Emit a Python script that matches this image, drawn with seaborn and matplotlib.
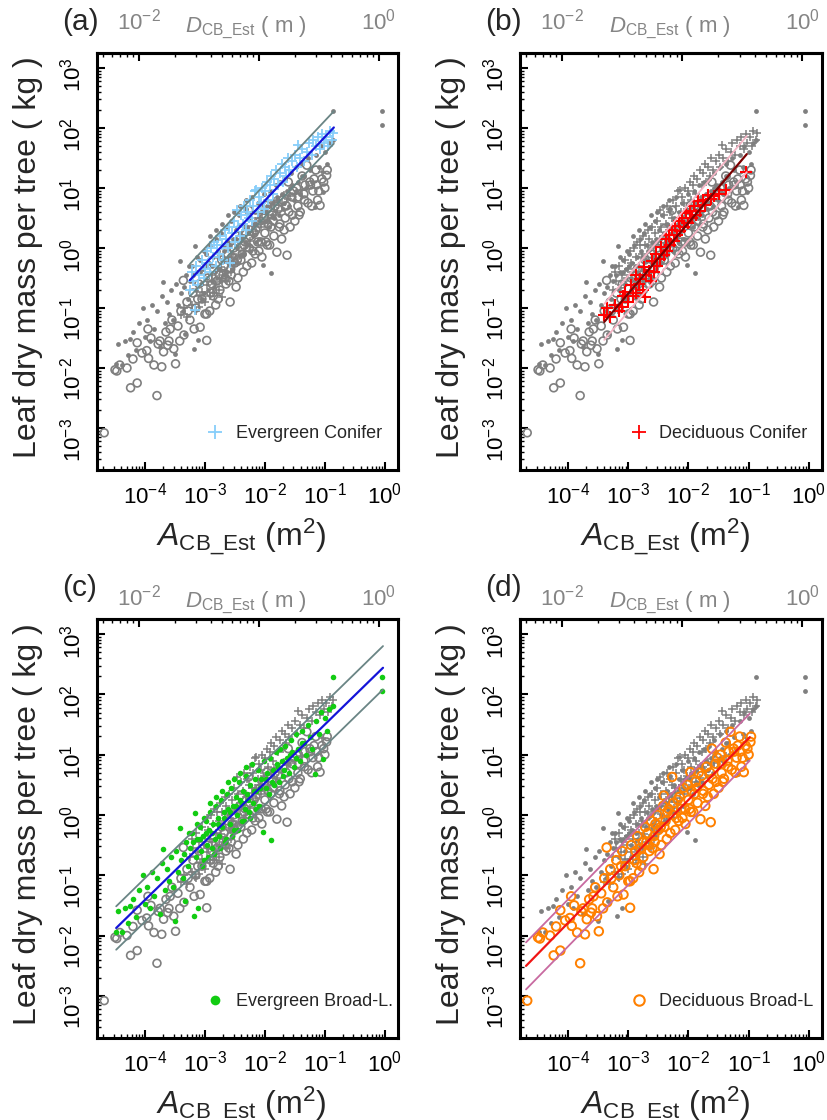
import numpy as np
import pandas as pd
import matplotlib
matplotlib.use("Agg")
import matplotlib.pyplot as plt
import seaborn as sns
from matplotlib.lines import Line2D
from matplotlib.markers import MarkerStyle
from matplotlib.ticker import LogLocator, NullFormatter

# ---------------- data: log10(A_CB_Est [m2]) and log10(leaf mass [kg])
ec_logA = [-3.25, -3.22, -3.20, -3.17, -3.15, -3.12, -3.10, -3.05, -3.02, -3.00,
           -2.97, -2.95, -2.92, -2.90, -2.87, -2.85, -2.82, -2.80, -2.77, -2.75,
           -2.72, -2.70, -2.67, -2.65, -2.62, -2.60, -2.58, -2.55, -2.52, -2.50,
           -2.47, -2.45, -2.42, -2.40, -2.37, -2.35, -2.32, -2.30, -2.27, -2.25,
           -2.22, -2.20, -2.17, -2.14, -2.12, -2.10, -2.07, -2.05, -2.02, -2.00,
           -1.97, -1.95, -1.92, -1.90, -1.87, -1.85, -1.81, -1.78, -1.75, -1.72,
           -1.70, -1.67, -1.65, -1.62, -1.60, -1.55, -1.50, -1.47, -1.44, -1.42,
           -1.38, -1.35, -1.30, -1.27, -1.22, -1.20, -1.15, -1.12, -1.08, -1.05,
           -1.02, -0.98, -0.95, -0.92, -0.88, -0.86]
ec_logM = [-0.70, -0.40, -0.55, -1.03, -0.30, -0.62, -0.45, -0.20, -0.50, -0.35,
           -0.05, -0.25, -0.40, 0.00, -0.15, 0.10, -0.30, 0.05, -0.10, 0.20,
           0.05, -0.20, 0.30, 0.15, 0.00, 0.35, -0.25, 0.25, 0.45, 0.10,
           0.63, 0.35, 0.20, 0.55, 0.40, 0.70, 0.30, 0.60, 0.50, 0.80,
           0.45, 0.70, 0.95, 0.96, 0.60, 0.85, 0.75, 1.00, 0.65, 0.95,
           1.10, 0.80, 1.05, 1.20, 0.90, 1.15, 1.30, 1.05, 1.25, 1.40,
           1.10, 1.35, 1.20, 1.50, 1.30, 1.45, 1.55, 1.35, 1.72, 1.50,
           1.65, 1.45, 1.60, 1.75, 1.55, 1.80, 1.70, 1.85, 1.65, 1.90,
           1.75, 1.85, 1.70, 1.95, 1.80, 1.91]

dc_logA = [-3.40, -3.35, -3.30, -3.22, -3.15, -3.10, -3.08, -3.05, -3.00, -2.96,
           -2.92, -2.88, -2.87, -2.83, -2.80, -2.76, -2.74, -2.72, -2.70, -2.66,
           -2.63, -2.60, -2.57, -2.54, -2.52, -2.48, -2.45, -2.41, -2.38, -2.35,
           -2.32, -2.30, -2.27, -2.24, -2.22, -2.19, -2.16, -2.14, -2.10, -2.07,
           -2.04, -2.00, -1.97, -1.94, -1.90, -1.87, -1.84, -1.80, -1.76, -1.72,
           -1.68, -1.62, -1.58, -1.50, -1.38, -1.05]
dc_logM = [-1.12, -1.00, -1.15, -0.95, -1.05, -0.98, -0.80, -0.73, -0.90, -0.62,
           -0.80, -0.45, -0.75, -0.60, -0.52, -0.70, -0.31, -0.81, -0.45, -0.38,
           -0.55, -0.22, -0.40, -0.10, -0.30, -0.18, 0.02, -0.12, 0.15, -0.05,
           0.22, 0.05, 0.30, 0.12, 0.36, 0.22, 0.45, 0.28, 0.50, 0.35,
           0.58, 0.42, 0.62, 0.50, 0.70, 0.55, 0.78, 0.62, 0.80, 0.72,
           0.88, 0.82, 0.86, 0.90, 0.97, 1.27]

eb_logA = [-4.49, -4.45, -4.39, -4.33, -4.28, -4.25, -4.20, -4.15, -4.10, -4.03,
           -4.00, -3.96, -3.92, -3.88, -3.85, -3.80, -3.75, -3.72, -3.70, -3.67,
           -3.63, -3.60, -3.56, -3.53, -3.50, -3.48, -3.45, -3.42, -3.40, -3.37,
           -3.33, -3.31, -3.28, -3.25, -3.22, -3.19, -3.17, -3.15, -3.13, -3.11,
           -3.09, -3.06, -3.04, -3.01, -2.99, -2.96, -2.94, -2.91, -2.89, -2.86,
           -2.84, -2.81, -2.79, -2.76, -2.74, -2.71, -2.69, -2.66, -2.64, -2.61,
           -2.59, -2.56, -2.54, -2.51, -2.49, -2.46, -2.44, -2.41, -2.39, -2.36,
           -2.34, -2.31, -2.29, -2.26, -2.24, -2.21, -2.19, -2.16, -2.14, -2.11,
           -2.09, -2.06, -2.03, -2.01, -1.98, -1.96, -1.93, -1.91, -1.89, -1.87,
           -1.84, -1.82, -1.79, -1.77, -1.74, -1.71, -1.69, -1.66, -1.63, -1.60,
           -1.57, -1.54, -1.51, -1.48, -1.45, -1.42, -1.38, -1.35, -1.32, -1.28,
           -1.25, -1.21, -1.17, -1.14, -1.10, -1.07, -1.03, -1.00, -0.96, -0.93,
           -3.35, -3.20, -3.08, -2.98, -2.88, -2.78, -2.68, -2.58, -2.48, -2.38,
           -2.28, -2.18, -2.08, -1.98, -1.88, -1.78, -1.68, -1.58, -1.48, -1.38,
           -3.27, -3.14, -3.02, -2.92, -2.82, -2.72, -2.62, -2.52, -2.42, -2.32,
           -3.05, -2.95, -2.85, -2.75, -2.65, -2.55, -2.45, -2.35, -2.25, -2.15,
           -0.87, -0.87, -0.055, -0.055]
eb_logM = [-1.94, -1.60, -1.95, -1.55, -1.79, -1.51, -1.40, -1.70, -1.25, -1.00,
           -1.48, -1.20, -1.55, -0.95, -1.35, -1.05, -1.65, -0.80, -0.57, -1.25,
           -0.90, -1.10, -0.70, -1.20, -1.76, -0.60, -0.95, -0.22, -0.75, -1.05,
           -1.43, -0.45, -0.85, -0.55, -0.30, -1.68, 0.04, -0.70, -0.40, -1.54,
           -0.20, -0.60, -0.35, -0.75, -0.10, -0.50, -0.25, 0.05, -0.55, -0.15,
           -0.40, 0.15, -0.05, -0.35, 0.25, -0.20, 0.05, -0.45, 0.35, 0.10,
           -0.15, 0.45, 0.15, -0.25, 0.30, 0.00, 0.55, 0.25, -0.10, 0.40,
           0.10, 0.65, 0.35, 0.05, 0.50, 0.85, 0.20, 0.60, 0.40, 0.75,
           0.15, 0.60, -0.29, 0.90, 0.45, 0.70, 0.35, 0.95, -0.41, 0.75,
           0.50, 1.05, 0.85, 0.55, 1.10, 0.90, 0.65, 1.15, 0.95, 0.70,
           1.25, 1.05, 0.80, 1.35, 1.10, 0.90, 1.40, 1.20, 1.00, 1.50,
           1.30, 1.10, 0.68, 1.55, 1.35, 1.70, 0.93, 1.60, 1.40, 1.75,
           -0.65, -0.45, -0.40, -0.30, -0.30, -0.15, -0.05, 0.05, 0.15, 0.20,
           0.25, 0.40, 0.45, 0.60, 0.55, 0.80, 0.75, 1.00, 0.95, 1.20,
           -0.30, -0.15, -0.05, 0.20, 0.30, 0.40, 0.55, 0.60, 0.70, 0.80,
           -0.85, -0.70, -0.65, -0.55, -0.40, -0.35, -0.25, -0.10, -0.05, 0.10,
           2.28, 1.80, 2.28, 2.05]

db_logA = [-4.68, -4.50, -4.47, -4.42, -4.30, -4.24, -4.20, -4.13, -4.13, -4.05,
           -3.97, -3.95, -3.94, -3.90, -3.85, -3.80, -3.78, -3.72, -3.69, -3.65,
           -3.62, -3.60, -3.55, -3.52, -3.49, -3.45, -3.42, -3.40, -3.36, -3.35,
           -3.30, -3.28, -3.25, -3.20, -3.18, -3.15, -3.12, -3.10, -3.08, -3.05,
           -3.00, -2.97, -2.97, -2.95, -2.92, -2.90, -2.88, -2.85, -2.82, -2.80,
           -2.78, -2.75, -2.72, -2.70, -2.68, -2.65, -2.62, -2.60, -2.58, -2.57,
           -2.55, -2.52, -2.50, -2.48, -2.45, -2.42, -2.41, -2.40, -2.38, -2.35,
           -2.33, -2.30, -2.27, -2.25, -2.22, -2.20, -2.18, -2.15, -2.12, -2.10,
           -2.08, -2.05, -2.02, -2.00, -1.98, -1.97, -1.95, -1.92, -1.90, -1.88,
           -1.85, -1.83, -1.80, -1.78, -1.75, -1.72, -1.70, -1.68, -1.66, -1.63,
           -1.61, -1.60, -1.58, -1.55, -1.52, -1.50, -1.47, -1.45, -1.43, -1.41,
           -1.38, -1.35, -1.33, -1.30, -1.28, -1.25, -1.22, -1.20, -1.18, -1.15,
           -1.12, -1.10, -1.08, -1.05, -1.02, -1.00, -0.97, -0.96,
           -2.86, -2.76, -2.66, -2.56, -2.46, -2.36, -2.26, -2.16, -2.06, -1.96,
           -1.86, -1.76, -1.64, -1.54, -1.44, -1.34, -1.24, -1.14, -3.75, -3.58]
db_logM = [-3.08, -2.03, -2.05, -1.95, -2.00, -2.33, -1.85, -1.58, -2.25, -1.75,
           -1.71, -1.35, -1.84, -1.50, -1.95, -2.46, -1.60, -1.98, -1.73, -1.40,
           -1.62, -1.55, -1.20, -1.68, -1.93, -1.30, -1.55, -1.05, -0.54, -1.45,
           -0.90, -1.05, -1.20, -0.75, -1.35, -1.00, -0.85, -0.60, -1.32, -0.85,
           -1.10, -1.54, -1.10, -0.50, -1.05, -0.75, -0.60, -0.35, -0.95, -0.55,
           -0.85, -0.70, -0.20, -0.45, -0.30, -0.60, -0.10, -0.55, -0.90, -0.35,
           -0.15, 0.00, -0.25, -0.65, -0.50, 0.15, 0.32, -0.20, -0.10, 0.05,
           0.10, -0.30, 0.63, 0.20, -0.25, -0.05, 0.25, 0.30, 0.10, -0.05,
           0.45, -0.15, 0.50, 0.25, 0.10, 0.71, 0.40, 0.05, 0.35, 0.55,
           0.20, 0.70, -0.07, 0.65, 0.40, 0.15, 0.80, 0.30, 0.50, -0.12,
           1.10, 0.60, 0.35, 0.85, 0.95, 0.45, 1.00, 0.70, 0.55, 0.60,
           1.20, 0.90, 1.05, 1.38, 0.75, 1.10, 0.70, 0.95, 1.15, 1.30,
           0.80, 0.95, 0.71, 1.15, 1.10, 1.00, 1.21, 1.30,
           -0.80, -0.45, -0.50, -0.45, -0.20, -0.40, 0.00, -0.10, 0.10, 0.05,
           0.45, 0.35, 0.70, 0.55, 0.85, 0.80, 1.05, 1.05, -1.55, -1.35]

# fitted lines per panel: log10(M) = intercept + slope*log10(A), prediction band +/- band
fit_slope = [1.06, 1.18, 0.97, 1.02]
fit_intercept = [2.91, 2.78, 2.47, 2.29]
fit_band = [0.27, 0.30, 0.36, 0.39]
fit_logA_lo = [-3.25, -3.40, -4.48, -4.70]
fit_logA_hi = [-0.85, -1.03, -0.03, -0.98]

panel_letters = ["(a)", "(b)", "(c)", "(d)"]
panel_groups = ["EC", "DC", "EB", "DB"]
legend_labels = ["Evergreen Conifer", "Deciduous Conifer", "Evergreen Broad-L.", "Deciduous Broad-L"]
top_tick_values = [1e-2, 1e-1, 1e0]
top_tick_labels = [r"$10^{-2}$", "", r"$10^{0}$"]

# ---------------- style
sns.set_style("white")
plt.rcParams["font.family"] = ["Liberation Sans", "DejaVu Sans"]
plt.rcParams["mathtext.fontset"] = "custom"
plt.rcParams["mathtext.rm"] = "Liberation Sans"
plt.rcParams["mathtext.it"] = "Liberation Sans:italic"
plt.rcParams["mathtext.bf"] = "Liberation Sans:bold"
plt.rcParams["axes.unicode_minus"] = True

GRAY = "#7f7f7f"
TOPGRAY = "#858585"
open_circle = MarkerStyle("o", fillstyle="none")

groups = {
    "EC": (ec_logA, ec_logM),
    "DC": (dc_logA, dc_logM),
    "EB": (eb_logA, eb_logM),
    "DB": (db_logA, db_logM),
}
gray_kw = {
    "DB": dict(marker=open_circle, s=32, linewidth=1.2),
    "EB": dict(marker="o", s=12, linewidth=0),
    "DC": dict(marker="+", s=38, linewidth=1.1),
    "EC": dict(marker="+", s=38, linewidth=1.1),
}
hl_kw = {
    "EC": dict(color="#87CEFA", marker="+", s=48, linewidth=1.3),
    "DC": dict(color="#FF0000", marker="+", s=80, linewidth=1.5),
    "EB": dict(color="#12CC12", marker="o", s=16, linewidth=0),
    "DB": dict(color="#FF8000", marker=open_circle, s=38, linewidth=1.4),
}
line_colors = [("#1414D8", "#6A8585"), ("#7A0000", "#F5B5C5"),
               ("#1414D8", "#6A8585"), ("#F01515", "#C86AA0")]
legend_handles = [
    Line2D([], [], ls="none", marker="+", color="#87CEFA", markersize=10, mew=1.3),
    Line2D([], [], ls="none", marker="+", color="#FF0000", markersize=10, mew=1.3),
    Line2D([], [], ls="none", marker="o", color="#12CC12", markersize=7, mew=0),
    Line2D([], [], ls="none", marker="o", mfc="none", mec="#FF8000", markersize=7.5, mew=1.5),
]

W, H = 827, 1120
boxes = [(97, 53, 398, 470), (520, 53, 822, 470), (97, 619, 398, 1038), (520, 619, 822, 1038)]

fig = plt.figure(figsize=(W / 100, H / 100), dpi=100)


def a2d(a):
    return np.sqrt(4.0 * np.maximum(np.asarray(a, dtype=float), 1e-30) / np.pi)


def d2a(d):
    return np.pi * np.asarray(d, dtype=float) ** 2 / 4.0


TICKSIZE = 16

for i, (l, t, r, b) in enumerate(boxes):
    hpx = b - t
    ax = fig.add_axes([l / W, 1 - b / H, (r - l) / W, hpx / H])
    ax.set_xscale("log")
    ax.set_yscale("log")
    hl = panel_groups[i]

    # gray background groups
    for g in ["DB", "EB", "DC", "EC"]:
        if g == hl:
            continue
        la, lm = groups[g]
        df = pd.DataFrame({"A": 10 ** np.array(la), "M": 10 ** np.array(lm)})
        sns.scatterplot(data=df, x="A", y="M", ax=ax, color=GRAY, legend=False,
                        zorder=2, **gray_kw[g])
    # highlighted group
    la, lm = groups[hl]
    df = pd.DataFrame({"A": 10 ** np.array(la), "M": 10 ** np.array(lm)})
    sns.scatterplot(data=df, x="A", y="M", ax=ax, legend=False, zorder=3, **hl_kw[hl])

    # fit line and prediction band
    xs = np.array([fit_logA_lo[i], fit_logA_hi[i]])
    main = fit_intercept[i] + fit_slope[i] * xs
    cmain, cband = line_colors[i]
    for off, c, lw in [(fit_band[i], cband, 1.3), (-fit_band[i], cband, 1.3), (0.0, cmain, 1.6)]:
        sns.lineplot(x=10 ** xs, y=10 ** (main + off), ax=ax, color=c, linewidth=lw,
                     zorder=5, legend=False)

    ax.set_xlim(10 ** -4.8, 10 ** 0.22)
    ax.set_ylim(10 ** -3.7, 10 ** 3.25)
    for axis in (ax.xaxis, ax.yaxis):
        axis.set_major_locator(LogLocator(base=10, numticks=20))
        axis.set_minor_locator(LogLocator(base=10, subs=np.arange(2, 10), numticks=20))
        axis.set_minor_formatter(NullFormatter())
    ax.tick_params(which="both", direction="in", top=False, right=False,
                   bottom=True, left=True, colors="black")
    ax.tick_params(which="major", length=6, width=1.5, labelsize=TICKSIZE)
    ax.tick_params(which="minor", length=3, width=1.0)
    ax.tick_params(axis="x", which="major", pad=9)
    ax.tick_params(axis="y", which="major", pad=8, labelrotation=90)
    for sp in ax.spines.values():
        sp.set_linewidth(2.2)
        sp.set_color("black")

    # top axis: crown diameter
    sec = ax.secondary_xaxis("top", functions=(a2d, d2a))
    sec.set_ticks(top_tick_values, labels=top_tick_labels)
    sec.xaxis.set_minor_locator(LogLocator(base=10, subs=np.arange(2, 10), numticks=20))
    sec.xaxis.set_minor_formatter(NullFormatter())
    toppad = 13 if i < 2 else 6
    sec.tick_params(which="both", direction="in", colors="black")
    sec.tick_params(which="major", length=6, width=1.5, labelsize=TICKSIZE,
                    labelcolor=TOPGRAY, pad=toppad)
    sec.tick_params(which="minor", length=3, width=1.0)
    sec.spines["top"].set_linewidth(2.2)
    toplab_y = 1 + (21 if i < 2 else 12) / hpx
    ax.text(0.495, toplab_y, r"$D_{\mathrm{CB\_Est}}$ ( m )", transform=ax.transAxes,
            ha="center", va="baseline", fontsize=16, color=TOPGRAY)

    ax.set_xlabel(r"$A_{\mathrm{CB\_Est}}$ (m$^{2}$)", fontsize=23)
    ax.xaxis.set_label_coords(0.48, -0.111)
    ax.set_ylabel("Leaf dry mass per tree ( kg )", fontsize=23)
    ax.yaxis.set_label_coords(-0.178, 0.51)

    ax.text(-0.115, 1 + 31 / hpx, panel_letters[i], transform=ax.transAxes,
            ha="left", va="center", fontsize=21.5)

    ax.legend(handles=[legend_handles[i]], labels=[legend_labels[i]], loc="center left",
              bbox_to_anchor=(0.363, 0.087), frameon=False, borderpad=0,
              borderaxespad=0, handlelength=1.0, handletextpad=0.65, fontsize=13)

fig.savefig("out.png", dpi=100)
